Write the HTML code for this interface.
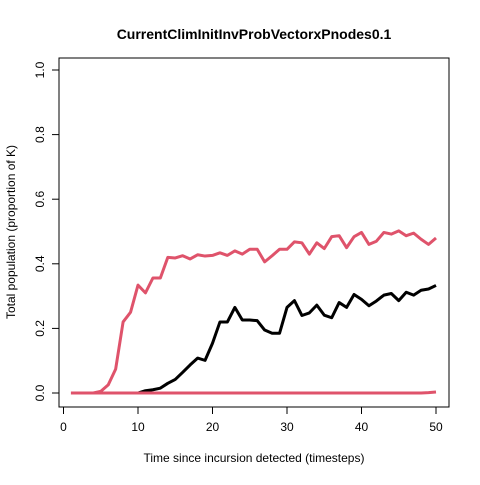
<!DOCTYPE html>
<html><head><meta charset="utf-8"><style>
body{margin:0;background:#fff}
svg{font-family:"Liberation Sans",Arial,sans-serif}
</style></head><body>
<svg id="chart" width="480" height="480"></svg>
<script>
const steps=[];for(let i=1;i<=50;i++)steps.push(i);
const redSeries=[0,0,0,0,0.005,0.025,0.074,0.22,0.25,0.334,0.31,0.356,0.356,0.42,0.418,0.425,0.415,0.428,0.424,0.426,0.434,0.426,0.44,0.43,0.445,0.445,0.406,0.425,0.445,0.445,0.468,0.465,0.43,0.465,0.447,0.484,0.487,0.45,0.484,0.497,0.46,0.47,0.497,0.492,0.502,0.487,0.495,0.476,0.46,0.48];
const blackSteps=[10,11,12,13,14,15,16,17,18,19,20,21,22,23,24,25,26,27,28,29,30,31,32,33,34,35,36,37,38,39,40,41,42,43,44,45,46,47,48,49,50];
const blackSeries=[0,0.007,0.01,0.015,0.03,0.042,0.064,0.087,0.108,0.101,0.154,0.22,0.22,0.265,0.226,0.226,0.224,0.195,0.185,0.185,0.265,0.286,0.24,0.248,0.272,0.241,0.233,0.28,0.265,0.305,0.29,0.27,0.285,0.303,0.308,0.286,0.312,0.303,0.318,0.322,0.333];
const flatSeries=[0,0,0,0,0,0,0,0,0,0,0,0,0,0,0,0,0,0,0,0,0,0,0,0,0,0,0,0,0,0,0,0,0,0,0,0,0,0,0,0,0,0,0,0,0,0,0,0,0.001,0.003];
const xTicks=[0,10,20,30,40,50];
const yTicks=[0,0.2,0.4,0.6,0.8,1.0];
const yTickLabels=["0.0","0.2","0.4","0.6","0.8","1.0"];
const X=v=>63.5+7.45*v, Y=v=>393-323*v;
const svg=document.getElementById('chart');const NS='http://www.w3.org/2000/svg';
function mk(t,a,p){const e=document.createElementNS(NS,t);for(const k in a)e.setAttribute(k,a[k]);(p||svg).appendChild(e);return e;}
const box=mk('rect',{x:59,y:58,width:390,height:349,fill:'none',stroke:'#000'});


xTicks.forEach(t=>{const g=mk('g',{});


mk('line',{x1:X(t),x2:X(t),y1:407,y2:414,stroke:'#000'},g);
const tx=mk('text',{x:X(t),y:431,'font-size':12,'text-anchor':'middle'},g);tx.textContent=t;});
yTicks.forEach((t,i)=>{const g=mk('g',{});


mk('line',{x1:52,x2:59,y1:Y(t),y2:Y(t),stroke:'#000'},g);
const tx=mk('text',{x:0,y:0,'font-size':12,'text-anchor':'middle',transform:`translate(44,${Y(t)}) rotate(-90)`},g);tx.textContent=yTickLabels[i];});
function line(xs,ys,col,name){const p=mk('polyline',{points:xs.map((x,i)=>X(x)+','+Y(ys[i])).join(' '),fill:'none',stroke:col,'stroke-width':3,'stroke-linejoin':'round'});

}
line(steps,redSeries,'#DF536B','series-red');
line(blackSteps,blackSeries,'#000','series-black');
line(steps,flatSeries,'#DF536B','series-flat');
const ti=mk('text',{x:254,y:39,'font-size':14,'font-weight':'bold','text-anchor':'middle'});ti.textContent='CurrentClimInitInvProbVectorxPnodes0.1';


const xl=mk('text',{x:254,y:462,'font-size':12,'text-anchor':'middle'});xl.textContent='Time since incursion detected (timesteps)';


const yl=mk('text',{x:0,y:0,'font-size':12,'text-anchor':'middle',transform:'translate(15,232) rotate(-90)'});yl.textContent='Total population (proportion of K)';


</script>
</body></html>
